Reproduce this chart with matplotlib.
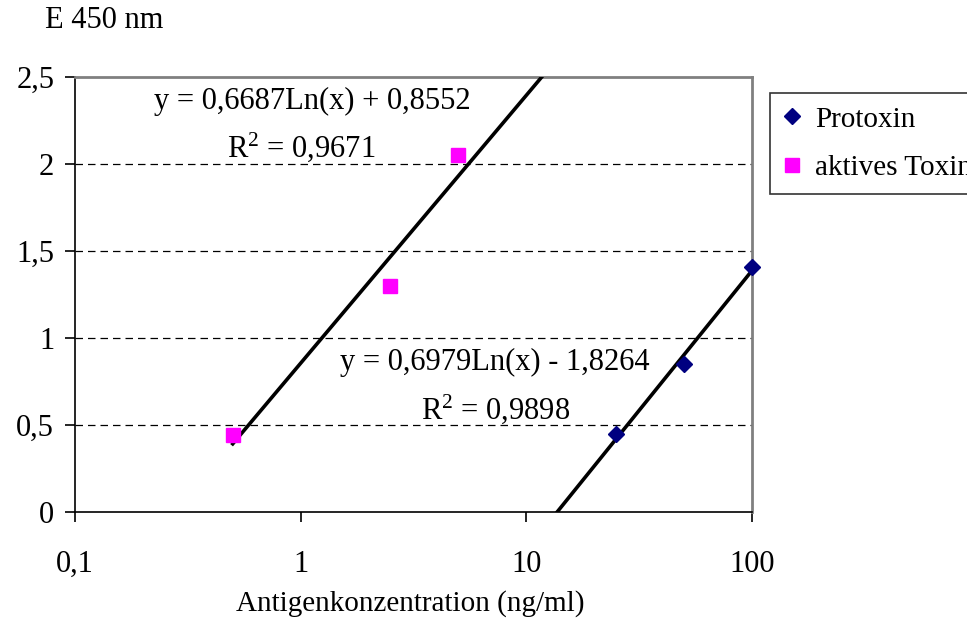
import numpy as np
import matplotlib
matplotlib.use("Agg")
import matplotlib.pyplot as plt
from matplotlib.ticker import FixedLocator, FixedFormatter, NullLocator

plt.rcParams['font.family'] = ['Liberation Serif', 'DejaVu Serif']
plt.rcParams['mathtext.fontset'] = 'custom'
plt.rcParams['mathtext.rm'] = 'Liberation Serif'
plt.rcParams['mathtext.it'] = 'Liberation Serif:italic'
plt.rcParams['mathtext.bf'] = 'Liberation Serif:bold'

# Data
proto_x = [25, 50, 100]
proto_y = [0.45, 0.85, 1.41]
toxin_x = [0.5, 2.5, 5]
toxin_y = [0.44, 1.30, 2.05]

# Logarithmic trendline coefficients (y = a*ln(x) + b)
toxin_fit = (0.6687, 0.8552)
proto_fit = (0.6979, -1.8264)
toxin_range = (0.5, 20)
proto_range = (10, 100)

x_ticks = [0.1, 1, 10, 100]
x_ticklabels = ["0,1", "1", "10", "100"]
y_ticks = [0, 0.5, 1, 1.5, 2, 2.5]
y_ticklabels = ["0", "0,5", "1", "1,5", "2", "2,5"]

W, H = 967, 623
fig = plt.figure(figsize=(W / 100, H / 100), dpi=100)
ax = fig.add_axes([75 / W, 1 - 512 / H, (752 - 75) / W, (512 - 77) / H])

ax.set_xscale('log')
ax.set_xlim(0.1, 100)
ax.set_ylim(0, 2.5)

# gridlines
for yv in y_ticks[1:-1]:
    ax.axhline(yv, color='black', lw=0.9, ls=(0, (6, 4)), zorder=1)

# trendlines
tx = np.geomspace(*toxin_range, 200)
ax.plot(tx, toxin_fit[0] * np.log(tx) + toxin_fit[1], color='black', lw=2.6, zorder=3)
px = np.geomspace(*proto_range, 200)
ax.plot(px, proto_fit[0] * np.log(px) + proto_fit[1], color='black', lw=2.6, zorder=3)

# points
ax.plot(proto_x, proto_y, ls='none', marker='D', ms=8.5, color='#000080',
        label='Protoxin', zorder=4, clip_on=False)
ax.plot(toxin_x, toxin_y, ls='none', marker='s', ms=9.5, color='#FF00FF',
        label='aktives Toxin', zorder=4, clip_on=False)

# axes styling
for side in ['left', 'bottom']:
    ax.spines[side].set_color('black')
    ax.spines[side].set_linewidth(1.2)
for side in ['top', 'right']:
    ax.spines[side].set_color('#808080')
    ax.spines[side].set_linewidth(2)

ax.xaxis.set_major_locator(FixedLocator(x_ticks))
ax.xaxis.set_major_formatter(FixedFormatter(x_ticklabels))
ax.xaxis.set_minor_locator(NullLocator())
ax.yaxis.set_major_locator(FixedLocator(y_ticks))
ax.yaxis.set_major_formatter(FixedFormatter(y_ticklabels))
ax.tick_params(axis='both', direction='out', length=7, width=1.2, color='black',
               labelsize=22)
ax.tick_params(axis='x', pad=20)
ax.tick_params(axis='y', pad=8)

# annotations
fs = 22
fig.text(312 / W, 1 - 101 / H, "y = 0,6687Ln(x) + 0,8552", fontsize=fs, ha='center', va='center')
fig.text(301 / W, 1 - 147 / H, r"R$^{\mathrm{2}}$ = 0,9671", fontsize=fs, ha='center', va='center')
fig.text(495 / W, 1 - 362 / H, "y = 0,6979Ln(x) - 1,8264", fontsize=fs, ha='center', va='center')
fig.text(496 / W, 1 - 409 / H, r"R$^{\mathrm{2}}$ = 0,9898", fontsize=fs, ha='center', va='center')

fig.text(45 / W, 1 - 21 / H, "E 450 nm", fontsize=22, ha='left', va='center')
fig.text(410 / W, 1 - 604 / H, "Antigenkonzentration (ng/ml)", fontsize=21, ha='center', va='center')

leg = fig.legend(loc='upper left', bbox_to_anchor=(770 / W, 1 - 93 / H),
                 fontsize=21, frameon=True, fancybox=False, edgecolor='black',
                 handlelength=0.6, handletextpad=0.5, borderpad=0.45,
                 labelspacing=0.75, borderaxespad=0)
leg.get_frame().set_linewidth(1.2)

fig.savefig("out.png", dpi=100)
